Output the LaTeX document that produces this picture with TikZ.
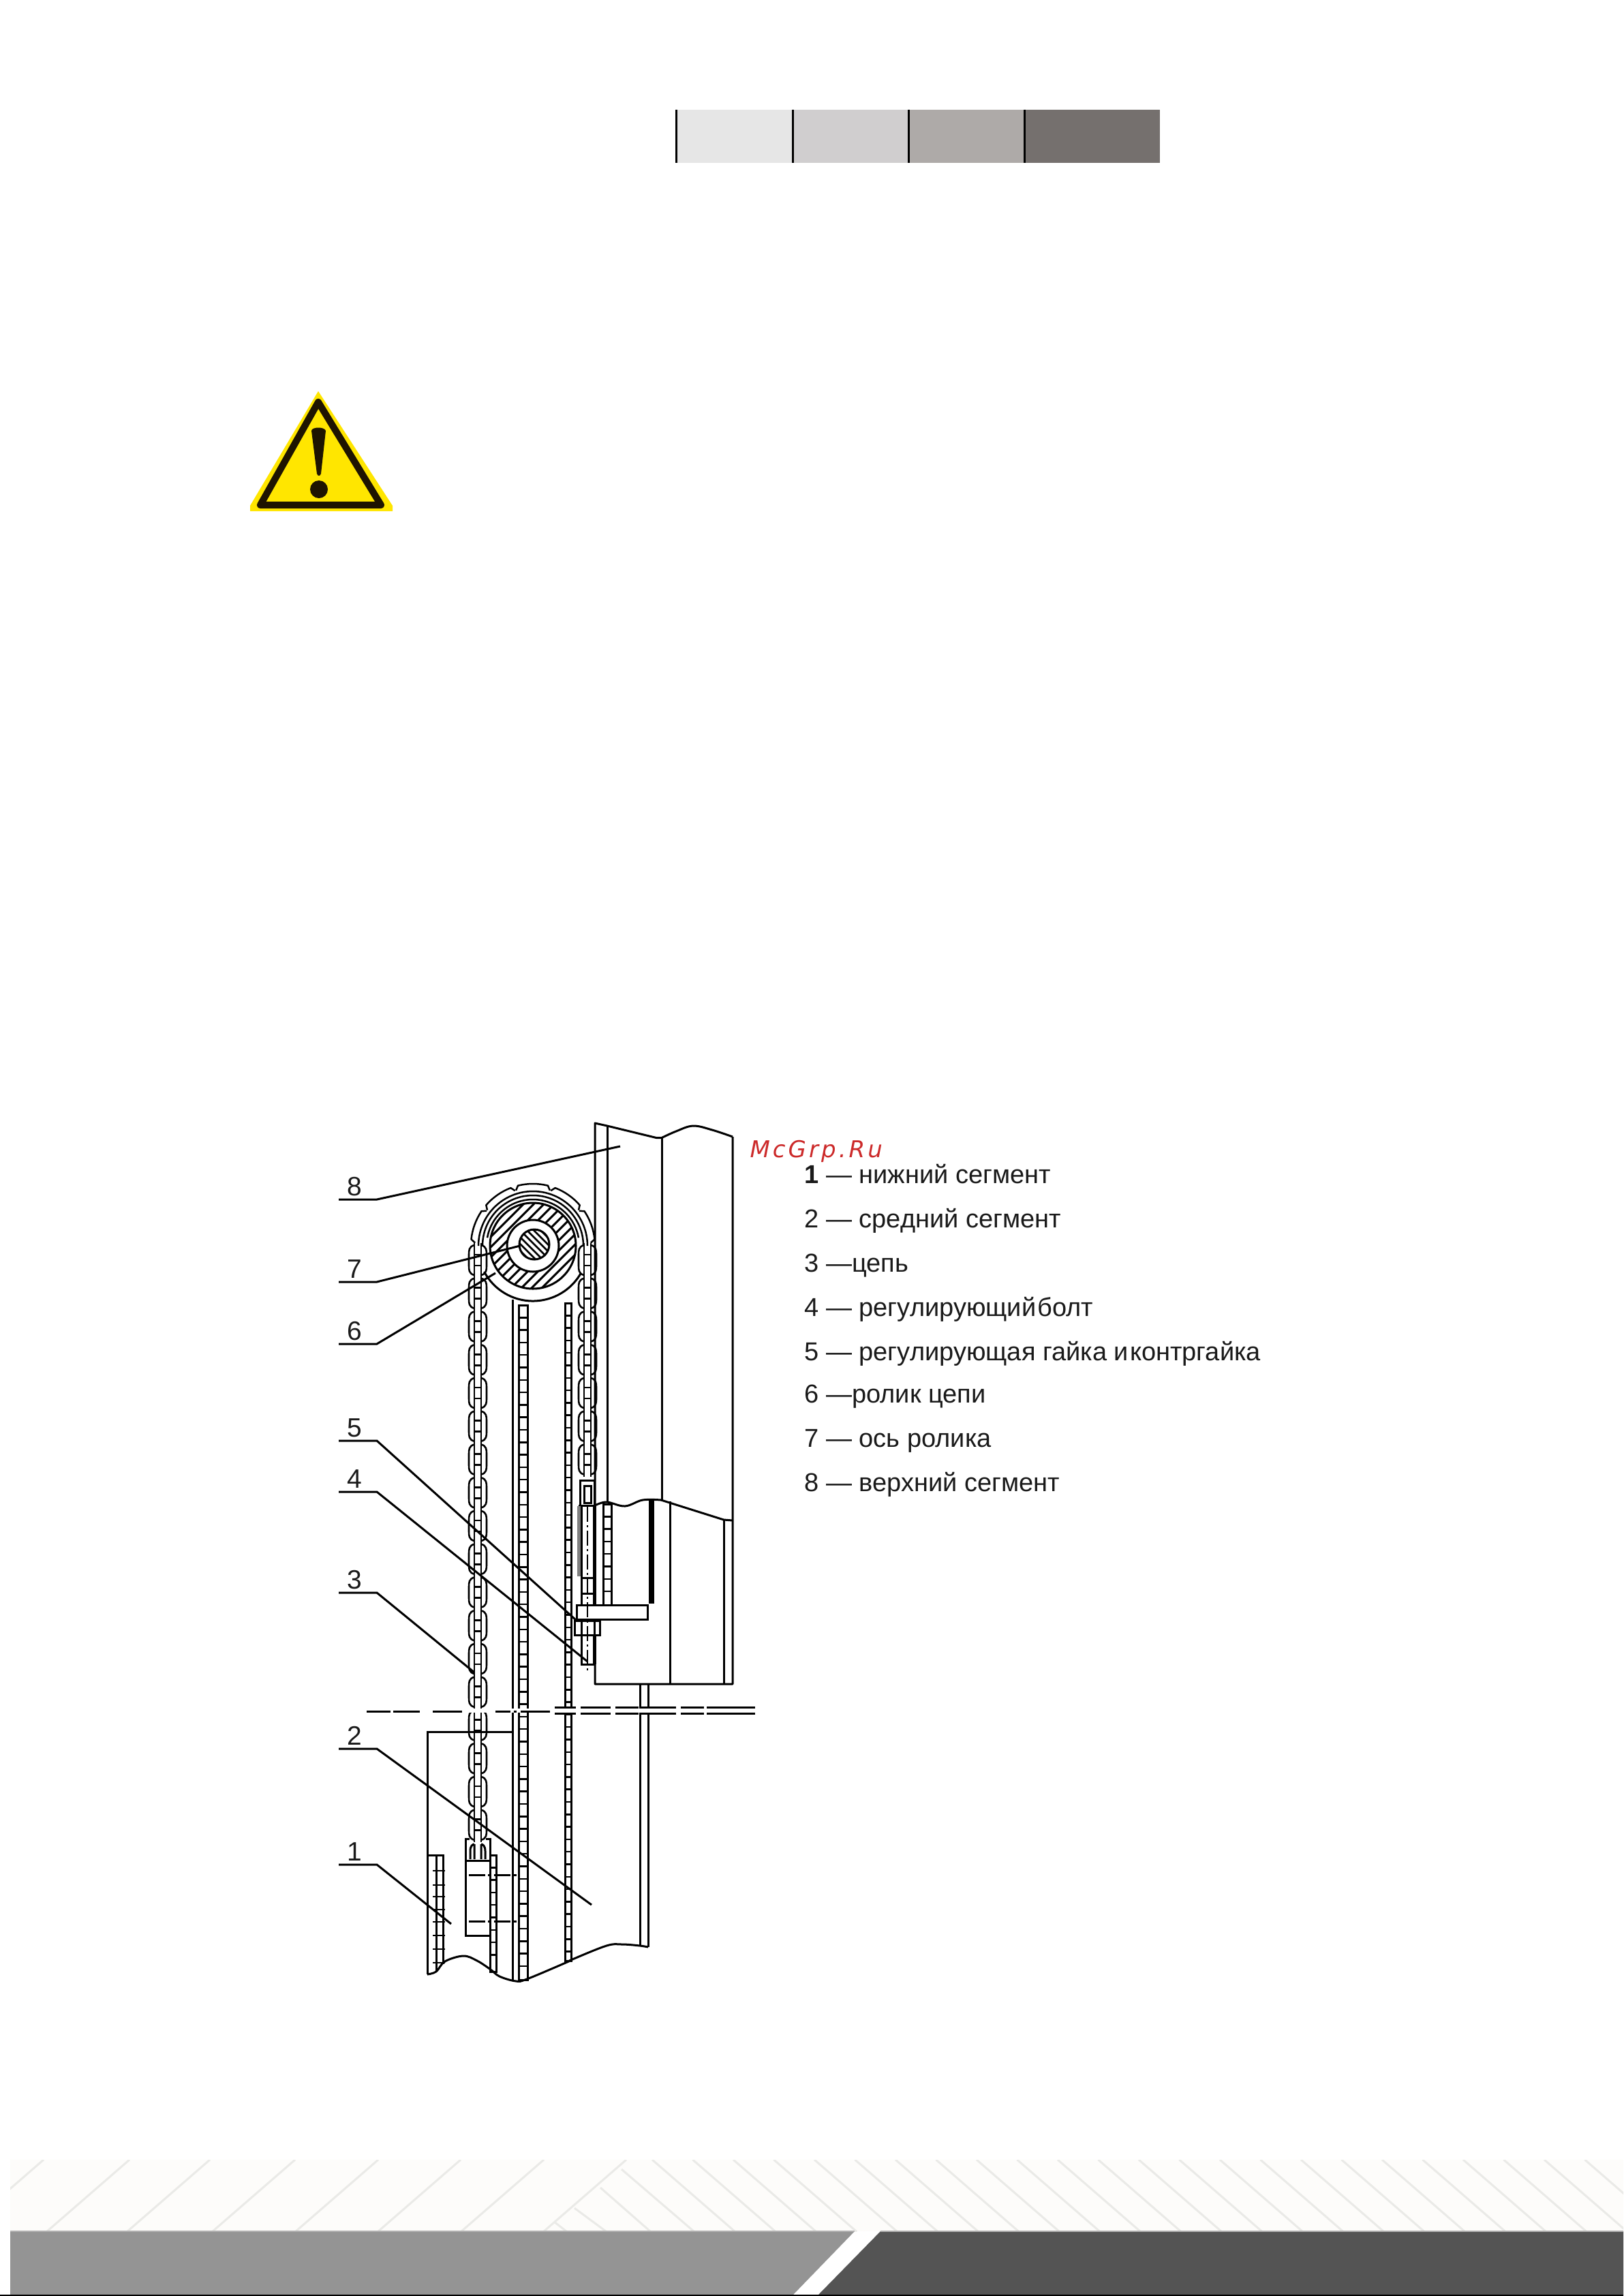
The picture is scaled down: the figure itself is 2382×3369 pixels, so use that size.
\documentclass[tikz,border=0pt]{standalone}
\usepackage{fontspec}
\setmainfont{Liberation Sans}
\newfontfamily\markfont[LetterSpace=12]{DejaVu Sans}
\usetikzlibrary{calc}
\definecolor{signyellow}{HTML}{FFE600}
\definecolor{signblack}{HTML}{1E1400}
\definecolor{markred}{HTML}{CC2A2A}
\definecolor{inkdark}{HTML}{1A1A1A}
\definecolor{footpale}{HTML}{FDFCFA}
\definecolor{foothatch}{HTML}{EAEAE7}
\newcommand{\railrungs}[5]{
  \draw (#1,#3) rectangle (#2,#4);
  \foreach \i in {1,...,#5} \draw[line width=2.5pt] (#1,{#3+18.3*\i}) -- (#2,{#3+18.3*\i});
}
\tikzset{
  chainlink/.pic={
    \draw[line width=2.6pt] (-5,-22) .. controls (-13,-20) and (-13,-14) .. (-13,-8) -- (-13,8) .. controls (-13,14) and (-13,20) .. (-5,22);
    \draw[line width=2.6pt] (5,-22) .. controls (13,-20) and (13,-14) .. (13,-8) -- (13,8) .. controls (13,14) and (13,20) .. (5,22);
    \draw[line width=2.6pt] (-5,-25) -- (-5,25) (5,-25) -- (5,25) (-5,-8) -- (5,-8) (-5,8) -- (5,8);
  }
}
\begin{document}
\begin{tikzpicture}[x=1pt,y=1pt,yscale=-1,line width=3pt]
\tikzset{every node/.append style={inner sep=0pt}}
\tikzstyle{numlab}=[anchor=base,text=inkdark,font=\fontsize{39}{42}\selectfont]
\tikzstyle{legend}=[anchor=base west,text=inkdark,font=\fontsize{38}{42}\selectfont]
\tikzstyle{leader}=[line width=3pt,black]
\useasboundingbox (0,0) rectangle (2382,3369);
\fill[white] (0,0) rectangle (2382,3369);
% tone strip
\foreach \xa/\xb/\tone in {992/1163/E6E6E6,1163/1333/D0CECF,1333/1503/AEAAA8,1503/1702/75706E}{
  \definecolor{stripcol}{HTML}{\tone}
  \fill[stripcol] (\xa,161) rectangle (\xb,239);
  \draw[black] (\xa,161) -- (\xa,239);
}
% warning sign
\fill[signyellow] (467,574) -- (576,742) -- (576,750) -- (367,750) -- (367,742) -- cycle;
\draw[signblack,line width=10pt,line join=round] (467,590) -- (559,741) -- (382,741) -- cycle;
\fill[signblack] (457,632) .. controls (458,626) and (476,626) .. (478,632) -- (471,695) .. controls (470,699) and (466,699) .. (465,695) -- cycle;
\fill[signblack] (468,718) circle (13);
% footer
\fill[footpale] (15,3169) rectangle (2382,3274);
\begin{scope}
  \clip (15,3169) rectangle (2382,3274);
  \foreach \xt in {64,190,308,433,555,676,798,919}
    \draw[foothatch] (\xt,3169) -- ({\xt-121.6},3274.6);
  \foreach \i in {0,...,25}
    \draw[foothatch] ({957+59.5*\i},3169) -- ({1078.6+59.5*\i},3274.6);
  \draw[foothatch] (912,3183) -- (1018,3274) (881,3210) -- (954,3274) (843,3240) -- (889,3274) (813,3260) -- (831,3274);
\end{scope}
\fill[black!42] (15,3274) -- (1254,3274) -- (1163,3368) -- (15,3368) -- cycle;
\fill[black!67] (1292,3274) -- (2382,3274) -- (2382,3368) -- (1200,3368) -- cycle;
\draw[black!30,line width=2pt] (15,3274) -- (1254,3274) (1292,3274) -- (2382,3274);
\draw[black,line width=2pt] (0,3368) -- (2382,3368);
% upper segment
\draw[line join=round] (1075,1668) -- (1075,2471) -- (873,2471) -- (873,1648) -- (891,1652) -- (963,1669.5) -- (971,1669.5);
\draw[line join=round] plot[smooth,tension=.6] coordinates {(971,1669.5) (992,1660) (1017,1652) (1045,1658) (1075,1668)};
\draw (891.5,1652) -- (891.5,2204) (971,1669.5) -- (971,2201) (983,2203) -- (983,2471) (1062,2230) -- (1062,2471);
\draw[line join=round] plot[smooth,tension=.6] coordinates {(873,2209) (890,2204) (917,2210) (943,2201) (970,2201)};
\draw[line join=round] (970,2201) -- (1062,2230) -- (1075,2231);
\railrungs{885}{897}{2207}{2355}{7}
\fill[black] (952,2201) rectangle (960,2353);
% middle segment
\draw (752.7,1907) -- (752.7,2905) (939,2471) -- (939,2855) (951,2471) -- (951,2857);
\railrungs{761}{774}{1915}{2905}{53}
\railrungs{829}{838.5}{1912}{2877}{52}
% lower segment
\draw (627,2897) -- (627,2541) -- (752.7,2541);
\draw (627,2722) -- (650,2722) -- (650,2882) (640,2722) -- (640,2892);
\foreach \yy in {2745,2766,2783,2802,2820,2840,2860,2880} \draw[line width=2.5pt] (635,\yy) -- (653,\yy);
\railrungs{719}{728}{2722}{2893}{8}
\draw[line join=round] plot[smooth,tension=.6] coordinates {(627,2897) (640,2893) (653,2878) (680,2870) (700,2877) (720,2890) (733,2900) (757,2907) (773,2904) (830,2880) (840,2875) (890,2855) (913,2853) (939,2855) (951,2857)};
% chain bracket
\draw[fill=white] (683,2730) rectangle (719,2840);
\draw (683,2730) -- (683,2698) -- (689,2698) (713,2698) -- (719,2698) -- (719,2730);
\draw[dash pattern=on 24pt off 4pt on 5pt off 4pt] (688,2751) -- (760,2751) (688,2819) -- (760,2819);
\draw (690,2728) -- (690,2716) .. controls (690,2708) and (694,2706) .. (696,2706) (712,2728) -- (712,2716) .. controls (712,2708) and (708,2706) .. (706,2706) (696,2728) -- (696,2706) (706,2728) -- (706,2706);
% chain runs
\foreach \k in {0,...,17} \pic at (701,{1849+48.75*\k}) {chainlink};
\foreach \k in {0,...,6} \pic at (862,{1849+48.75*\k}) {chainlink};
\draw (851,2172) rectangle (872,2209) (857,2180) rectangle (867,2205);
% bolt
\draw (849,2209) -- (873,2209) (853,2209) -- (853,2442) -- (872,2442);
\draw[line width=5pt] (872,2209) -- (872,2442);
\draw[gray,line width=5pt] (849,2210) -- (849,2313);
\draw (853,2315) -- (872,2315) (853,2338) -- (872,2338);
\draw[fill=white] (846,2355) rectangle (950,2376);
\draw[fill=white] (843,2378) rectangle (880,2399);
\draw (853,2378) -- (853,2399) (872,2378) -- (872,2399);
\draw[line width=2.5pt,dash pattern=on 22pt off 5pt on 3pt off 5pt] (862,2211) -- (862,2451);
% roller
\begin{scope}[shift={(782,1828)}]
  \draw (30:81) arc[start angle=30,end angle=152,radius=81];
  \begin{scope}
    \clip (0,0) circle (63);
    \foreach \i in {-6,...,6}
      \draw[line width=3pt] ({\i*15-95},95) -- ({\i*15+95},-95);
  \end{scope}
  \draw (0,0) circle (63);
  \draw[fill=white] (0,0) circle (38);
  \begin{scope}[shift={(2,-2)}]
    \clip (0,0) circle (22);
    \foreach \i in {-3,...,3}
      \draw[line width=2.5pt] ({\i*10-30},-30) -- ({\i*10+30},30);
  \end{scope}
  \draw (2,-2) circle (22);
  \draw[line width=2.5pt] (180:80) arc[start angle=180,end angle=360,radius=80];
  \draw[line width=2.5pt] (180:74) arc[start angle=180,end angle=360,radius=74];
  \draw[line width=2.5pt] (-170:68) arc[start angle=-170,end angle=-10,radius=68];
  \foreach \a in {-160,-125,-90,-55,-20}
    \draw[line width=2.5pt,line join=round] (\a-17:85) -- (\a-14:91) arc[start angle=\a-14,end angle=\a+14,radius=91] -- (\a+17:85);
\end{scope}
% break line
\fill[white] (680,2507) rectangle (1110,2513);
\foreach \xa/\xb in {538/573,577/616,635/678,727/749,754/758,764/807}
  \draw (\xa,2511) -- (\xb,2511);
\foreach \xa/\xb in {814/845,852/896,903/937,941/992,999/1033,1037/1108}
  \draw (\xa,2505.5) -- (\xb,2505.5) (\xa,2514) -- (\xb,2514);
% leaders and labels
\foreach \n/\ys/\tx/\ty in {8/1760/910/1682,7/1881/763/1828,6/1972/727/1868,5/2114/845/2377,4/2189/862/2438,3/2337/696/2454,2/2566/868/2795,1/2736/662/2823}{
  \coordinate (start\n) at (497,\ys);
  \coordinate (knee\n) at (553,\ys);
  \coordinate (tip\n) at (\tx,\ty);
  \node[numlab] (lab\n) at (520,\ys-6) {\n};
  \draw[leader] (start\n) -- (knee\n) -- (tip\n);
}
% legend
\node[anchor=base west,text=markred,font=\fontsize{34}{38}\markfont\itshape] (mark) at (1099,1698) {McGrp.Ru};
\foreach \n/\yy/\txt in {1/1736/\textbf{1} — нижний сегмент,2/1801/2 — средний сегмент,3/1866/3 —цепь,4/1931/4 — регулирующий\hspace{-.22em} болт,5/1996/5 — регулирующая гайка и\hspace{-.22em} контргайка,6/2058/6 —ролик цепи,7/2123/7 — ось ролика,8/2188/8 — верхний сегмент}
  \node[legend] (item\n) at (1179,\yy) {\txt};
\end{tikzpicture}
\end{document}
